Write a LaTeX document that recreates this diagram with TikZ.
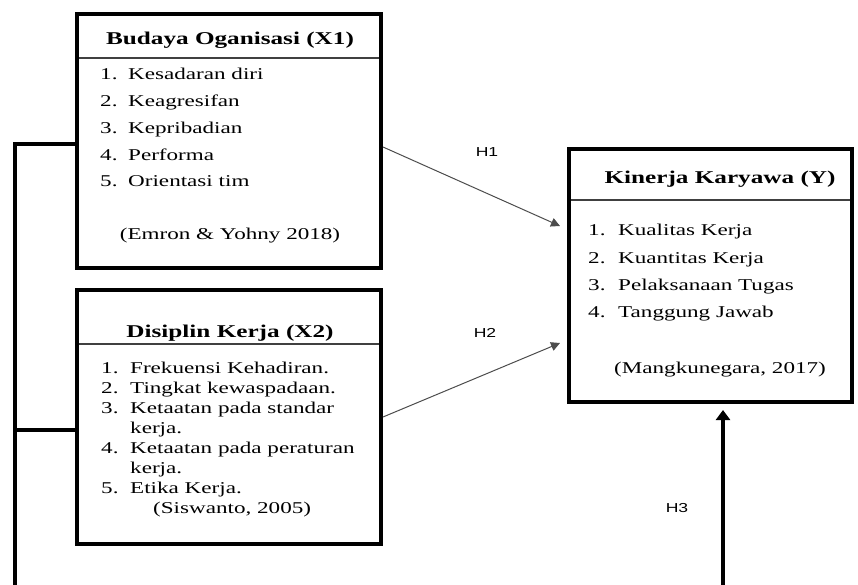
\documentclass[tikz,border=0pt]{standalone}
\usepackage{fontspec}
\setmainfont[FakeStretch=1.4]{Liberation Serif}
\newfontfamily\hsans[FakeStretch=1.35]{Liberation Sans}
\usetikzlibrary{arrows.meta}
\begin{document}
\begin{tikzpicture}[x=1pt,y=-1pt,
  box/.style={draw=black,line width=4pt,minimum width=#1,inner sep=0pt},
  divider/.style={draw=black!75,line width=2pt},
  head/.style={anchor=base,inner sep=0pt,font=\fontsize{18}{20}\selectfont\bfseries},
  item/.style={anchor=base west,inner sep=0pt,font=\fontsize{16.5}{19}\selectfont},
  cite/.style={anchor=base,inner sep=0pt,font=\fontsize{16.5}{19}\selectfont},
  hlab/.style={inner sep=0pt,font=\hsans\fontsize{13}{15}\selectfont},
  thin/.style={draw=black!70,line width=1pt,-{Triangle[length=9pt,width=9pt]}},
  thick/.style={draw=black,line width=4pt},
  bigarrow/.style={draw=black,line width=4pt,-{Triangle[length=10pt,width=14pt]}}]
\useasboundingbox (0,0) rectangle (858,585);
% Box X1
\node[box=304pt,minimum height=254pt] (x1) at (229,141) {};
\draw[divider] (79,58) -- (379,58);
\node[head] (x1h) at (230,45) {Budaya Oganisasi (X1)};
\node[item] (a1n) at (100,80) {1.}; \node[item] (a1) at (128,80) {Kesadaran diri};
\node[item] (a2n) at (100,107) {2.}; \node[item] (a2) at (128,107) {Keagresifan};
\node[item] (a3n) at (100,134) {3.}; \node[item] (a3) at (128,134) {Kepribadian};
\node[item] (a4n) at (100,161) {4.}; \node[item] (a4) at (128,161) {Performa};
\node[item] (a5n) at (100,187) {5.}; \node[item] (a5) at (128,187) {Orientasi tim};
\node[cite] (x1c) at (230,240) {(Emron \& Yohny 2018)};
% Box X2
\node[box=304pt,minimum height=254pt] (x2) at (229,417) {};
\draw[divider] (79,344) -- (379,344);
\node[head] (x2h) at (230,337) {Disiplin Kerja (X2)};
\node[item] (b1n) at (101,373) {1.}; \node[item] (b1) at (130,373) {Frekuensi Kehadiran.};
\node[item] (b2n) at (101,393) {2.}; \node[item] (b2) at (130,393) {Tingkat kewaspadaan.};
\node[item] (b3n) at (101,413) {3.}; \node[item] (b3) at (130,413) {Ketaatan pada standar};
\node[item] (b3b) at (130,433) {kerja.};
\node[item] (b4n) at (101,453) {4.}; \node[item] (b4) at (130,453) {Ketaatan pada peraturan};
\node[item] (b4b) at (130,473) {kerja.};
\node[item] (b5n) at (101,493) {5.}; \node[item] (b5) at (130,493) {Etika Kerja.};
\node[item] (x2c) at (153,513) {(Siswanto, 2005)};
% Box Y
\node[box=283pt,minimum height=253pt] (y) at (710.5,275.5) {};
\draw[divider] (571,200) -- (850,200);
\node[head] (yh) at (720,184) {Kinerja Karyawa (Y)};
\node[item] (c1n) at (588,236) {1.}; \node[item] (c1) at (618,236) {Kualitas Kerja};
\node[item] (c2n) at (588,263) {2.}; \node[item] (c2) at (618,263) {Kuantitas Kerja};
\node[item] (c3n) at (588,290) {3.}; \node[item] (c3) at (618,290) {Pelaksanaan Tugas};
\node[item] (c4n) at (588,317) {4.}; \node[item] (c4) at (618,317) {Tanggung Jawab};
\node[cite] (yc) at (720,373) {(Mangkunegara, 2017)};
% Hypothesis arrows
\draw[thin] ([yshift=-6pt]x1.east) -- ([xshift=-7pt,yshift=49.5pt]y.west);
\node[hlab] (h1) at (487,152) {H1};
\draw[thin] (x2.east) -- ([xshift=-7pt,yshift=-67.5pt]y.west);
\node[hlab] (h2) at (485,333) {H2};
\coordinate (h3s) at (723,587);
\draw[bigarrow] (h3s) -- ([xshift=12.5pt,yshift=-6pt]y.south);
\node[hlab] (h3) at (677,508) {H3};
% Left bracket
\coordinate (lb) at (15,587);
\draw[thick] ([yshift=-3pt]x1.west) -| (lb);
\draw[thick] ([yshift=-13pt]x2.west) -- ([yshift=-13pt]x2.west -| lb);
\end{tikzpicture}
\end{document}
